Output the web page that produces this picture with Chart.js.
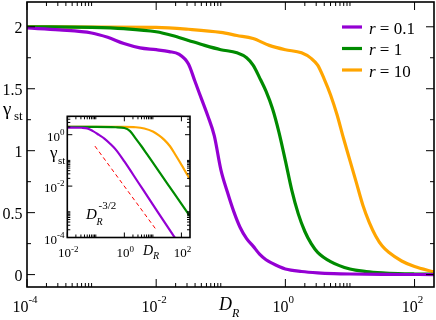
<!DOCTYPE html>
<html><head><meta charset="utf-8">
<script src="https://cdn.jsdelivr.net/npm/chart.js@4/dist/chart.umd.min.js"></script>
<style>
html,body{margin:0;padding:0;background:#fff;}
#wrap{position:relative;width:436px;height:320px;overflow:hidden;}
#wrap canvas{position:absolute;left:0;top:0;}
</style></head><body>
<div id="wrap"><canvas id="main" width="436" height="320"></canvas><canvas id="inset" width="436" height="320"></canvas></div>
<script>
// ---------- data ----------
const legendLabels = ['0.1', '1', '10'];
const seriesColors = ['#9400d3', '#008b00', '#ffa500'];

// main panel: gamma_st vs D_R
const purpleD = [1e-4, 3.162e-4, 1e-3, 1.778e-3, 3.162e-3, 5.623e-3, 0.01, 0.01585, 0.02239, 0.03162, 0.03981, 0.05012, 0.0631, 0.07943, 0.1, 0.1259, 0.1585, 0.1995, 0.2512, 0.3162, 0.3981, 0.5012, 0.631, 0.7943, 1, 1.778, 3.162, 5.623, 10, 31.62, 100, 199.5];
const purpleG = [1.99, 1.975, 1.95, 1.915, 1.865, 1.83, 1.815, 1.80, 1.78, 1.70, 1.56, 1.42, 1.28, 1.12, 0.85, 0.67, 0.51, 0.38, 0.29, 0.23, 0.165, 0.12, 0.09, 0.065, 0.045, 0.025, 0.014, 0.008, 0.005, 0.002, 0.0008, 0.0004];
const greenD = [1e-4, 1e-3, 3.162e-3, 0.01, 0.01778, 0.03162, 0.05623, 0.1, 0.1778, 0.2512, 0.3162, 0.3981, 0.5012, 0.631, 0.7943, 1, 1.259, 1.585, 1.995, 2.512, 3.162, 5.012, 10, 17.78, 31.62, 56.23, 100, 199.5];
const greenG = [2.0, 1.995, 1.985, 1.96, 1.93, 1.89, 1.85, 1.815, 1.79, 1.75, 1.69, 1.59, 1.48, 1.34, 1.15, 0.92, 0.68, 0.49, 0.35, 0.25, 0.18, 0.105, 0.045, 0.025, 0.014, 0.008, 0.005, 0.003];
const orangeD = [1e-4, 0.01, 0.03162, 0.1, 0.1778, 0.3162, 0.5623, 1, 1.778, 2.512, 3.162, 3.981, 5.012, 6.31, 7.943, 10, 12.59, 15.85, 19.95, 25.12, 31.62, 39.81, 63.1, 100, 199.5];
const orangeG = [2.0, 1.995, 1.98, 1.955, 1.93, 1.905, 1.85, 1.815, 1.79, 1.745, 1.69, 1.58, 1.45, 1.29, 1.10, 0.92, 0.74, 0.56, 0.42, 0.31, 0.23, 0.18, 0.11, 0.065, 0.022];

// inset: log-log
const insetPurpleD = [0.01, 0.03162, 0.05012, 0.07943, 0.1259, 0.1995, 0.3162, 0.5012, 1, 3.162, 10, 31.62, 70.79];
const insetPurpleG = [1.9, 1.86, 1.76, 1.38, 1.0, 0.708, 0.447, 0.263, 0.0912, 0.0132, 0.00191, 0.000275, 0.0000724];
const insetGreenD = [0.01, 0.1, 0.5012, 1, 1.585, 2.512, 3.981, 6.31, 10, 31.62, 100, 199.5];
const insetGreenG = [2.0, 2.0, 1.95, 1.82, 1.38, 0.708, 0.355, 0.17, 0.0813, 0.0129, 0.00204, 0.000676];
const insetOrangeD = [0.01, 1, 2.512, 5.012, 10, 15.85, 25.12, 39.81, 63.1, 100, 158.5, 199.5];
const insetOrangeG = [2.0, 2.0, 1.95, 1.74, 1.32, 0.955, 0.631, 0.355, 0.158, 0.0676, 0.0282, 0.0186];
const slopeD = [0.093, 12.3];
const slopeG = [0.36, 0.00022];

// ticks
const mainXMajor = [1e-4, 1e-2, 1, 100];
const mainYMajor = [0, 0.5, 1, 1.5, 2];
const mainYLabels = ['0', '0.5', '1', '1.5', '2'];
const mainYMinor = [0.25, 0.75, 1.25, 1.75];
const insetXMajor = [1e-2, 1, 100];
const insetYMajor = [1e-4, 1e-2, 1];

// ---------- helpers ----------
const SERIF = '"Liberation Serif", "Times New Roman", serif';
const pts = (xs, ys) => xs.map((v, i) => ({x: v, y: ys[i]}));
function font(px, italic) { return (italic ? 'italic ' : '') + px + 'px ' + SERIF; }
function line(ctx, x1, y1, x2, y2) { ctx.beginPath(); ctx.moveTo(x1, y1); ctx.lineTo(x2, y2); ctx.stroke(); }
function drawPow(ctx, x, y, base, exp, fb, fe, rise, align) {
  ctx.font = font(fb); const wb = ctx.measureText(base).width;
  ctx.font = font(fe); const we = ctx.measureText(exp).width;
  const w = wb + we;
  const x0 = align === 'center' ? x - w / 2 : (align === 'right' ? x - w : x);
  ctx.textAlign = 'left'; ctx.textBaseline = 'alphabetic';
  ctx.font = font(fb); ctx.fillText(base, x0, y);
  ctx.font = font(fe); ctx.fillText(exp, x0 + wb, y - rise);
}
function logMinor(majors, max) {
  const out = [];
  majors.forEach(m => { for (let k = 2; k <= 10; k++) { const v = k * m; if (v < max * 0.999) out.push(v); } });
  return out;
}

// ---------- main chart ----------
const mainPlugin = {
  id: 'mainFrame',
  afterDraw(chart) {
    const {ctx, chartArea: a, scales: {x, y}} = chart;
    ctx.save();
    ctx.strokeStyle = '#000'; ctx.fillStyle = '#000';
    ctx.lineWidth = 1;
    const xt = (v, len) => { const p = x.getPixelForValue(v); line(ctx, p, a.bottom, p, a.bottom - len); line(ctx, p, a.top, p, a.top + len); };
    const yt = (v, len) => { const p = y.getPixelForValue(v); line(ctx, a.left, p, a.left + len, p); line(ctx, a.right, p, a.right - len, p); };
    mainXMajor.forEach(v => xt(v, 8));
    logMinor(mainXMajor, x.max).forEach(v => xt(v, 4));
    mainYMajor.forEach(v => yt(v, 8));
    mainYMinor.forEach(v => yt(v, 4));
    ctx.lineWidth = 1.6;
    ctx.strokeRect(a.left, a.top, a.right - a.left, a.bottom - a.top);
    // x tick labels
    mainXMajor.forEach(v => {
      const p = x.getPixelForValue(v);
      drawPow(ctx, p - 2, 312, '10', String(Math.round(Math.log10(v))), 16, 11, 9.3, 'center');
    });
    // y tick labels
    ctx.font = font(16); ctx.textAlign = 'right'; ctx.textBaseline = 'alphabetic';
    mainYMajor.forEach((v, i) => ctx.fillText(mainYLabels[i], 22.5, y.getPixelForValue(v) + 6));
    // axis titles
    ctx.textAlign = 'left';
    ctx.font = font(18, true); ctx.fillText('D', 219, 310);
    ctx.font = font(12, true); ctx.fillText('R', 232, 317);
    ctx.font = font(19); ctx.fillText('γ', 3, 115);
    ctx.font = font(13); ctx.fillText('st', 14, 120);
    // legend
    const ly = [27, 48.5, 70];
    legendLabels.forEach((lab, i) => {
      ctx.strokeStyle = seriesColors[i]; ctx.lineWidth = 3.2;
      line(ctx, 342, ly[i], 362, ly[i]);
      ctx.font = font(17, true); ctx.fillText('r', 369, ly[i] + 6.5);
      const w = ctx.measureText('r').width;
      ctx.font = font(17); ctx.fillText(' = ' + lab, 369 + w, ly[i] + 6.5);
    });
    ctx.restore();
  }
};

const lineDs = (label, data, color, width) => ({
  label, data, borderColor: color, backgroundColor: color, borderWidth: width,
  pointRadius: 0, fill: false, cubicInterpolationMode: 'monotone'
});

new Chart(document.getElementById('main'), {
  type: 'line',
  data: {
    datasets: [
      lineDs('r = 0.1', pts(purpleD, purpleG), seriesColors[0], 3.2),
      lineDs('r = 1', pts(greenD, greenG), seriesColors[1], 3.2),
      lineDs('r = 10', pts(orangeD, orangeG), seriesColors[2], 3.2)
    ]
  },
  options: {
    responsive: false, animation: false, devicePixelRatio: 1,
    layout: {padding: {left: 27, top: 2, right: 2, bottom: 33}},
    plugins: {legend: {display: false}, tooltip: {enabled: false}},
    scales: {
      x: {type: 'logarithmic', min: 1e-4, max: 200, display: false},
      y: {type: 'linear', min: -0.1, max: 2.2, display: false}
    }
  },
  plugins: [mainPlugin]
});

// ---------- inset chart ----------
const insetPlugin = {
  id: 'insetFrame',
  beforeDatasetsDraw(chart) {
    const {ctx, chartArea: a} = chart;
    ctx.save(); ctx.fillStyle = '#fff';
    ctx.fillRect(a.left, a.top, a.right - a.left, a.bottom - a.top);
    ctx.restore();
  },
  afterDraw(chart) {
    const {ctx, chartArea: a, scales: {x, y}} = chart;
    ctx.save();
    ctx.strokeStyle = '#000'; ctx.fillStyle = '#000'; ctx.lineWidth = 1;
    const xt = (v, len) => { const p = x.getPixelForValue(v); line(ctx, p, a.bottom, p, a.bottom - len); line(ctx, p, a.top, p, a.top + len); };
    const yt = (v, len) => { const p = y.getPixelForValue(v); line(ctx, a.left, p, a.left + len, p); line(ctx, a.right, p, a.right - len, p); };
    insetXMajor.forEach(v => xt(v, 5));
    logMinor(insetXMajor, x.max).forEach(v => xt(v, 3));
    insetYMajor.forEach(v => yt(v, 5));
    logMinor(insetYMajor, y.max).forEach(v => yt(v, 3));
    ctx.lineWidth = 1.6;
    ctx.strokeRect(a.left, a.top, a.right - a.left, a.bottom - a.top);
    insetXMajor.forEach(v => {
      drawPow(ctx, x.getPixelForValue(v) + 1, 257, '10', String(Math.round(Math.log10(v))), 13, 9, 5.5, 'center');
    });
    insetYMajor.forEach(v => {
      drawPow(ctx, 64.5, y.getPixelForValue(v) + 6, '10', String(Math.round(Math.log10(v))), 13, 9, 6, 'right');
    });
    ctx.textAlign = 'left'; ctx.textBaseline = 'alphabetic';
    ctx.font = font(14, true); ctx.fillText('D', 143, 255);
    ctx.font = font(10, true); ctx.fillText('R', 153, 258.5);
    ctx.font = font(17); ctx.fillText('γ', 50, 158);
    ctx.font = font(11); ctx.fillText('st', 58, 164);
    ctx.font = font(15, true); ctx.fillText('D', 86, 218.5);
    ctx.font = font(10, true); ctx.fillText('R', 96.5, 225);
    ctx.font = font(11); ctx.fillText('-3/2', 98.5, 209);
    ctx.restore();
  }
};

new Chart(document.getElementById('inset'), {
  type: 'line',
  data: {
    datasets: [
      lineDs('slope', pts(slopeD, slopeG), '#ff0000', 1),
      lineDs('r = 0.1', pts(insetPurpleD, insetPurpleG), seriesColors[0], 2.2),
      lineDs('r = 1', pts(insetGreenD, insetGreenG), seriesColors[1], 2.2),
      lineDs('r = 10', pts(insetOrangeD, insetOrangeG), seriesColors[2], 2.2)
    ]
  },
  options: {
    responsive: false, animation: false, devicePixelRatio: 1,
    layout: {padding: {left: 67.3, top: 116.3, right: 246, bottom: 82.5}},
    plugins: {legend: {display: false}, tooltip: {enabled: false}},
    datasets: {line: {}},
    scales: {
      x: {type: 'logarithmic', min: 1e-2, max: 200, display: false},
      y: {type: 'logarithmic', min: 1e-4, max: 5.2, display: false}
    }
  },
  plugins: [insetPlugin]
});
// dashed style for the power-law guide line
Chart.getChart('inset').data.datasets[0].borderDash = [4, 3];
Chart.getChart('inset').update('none');
</script>
</body></html>
